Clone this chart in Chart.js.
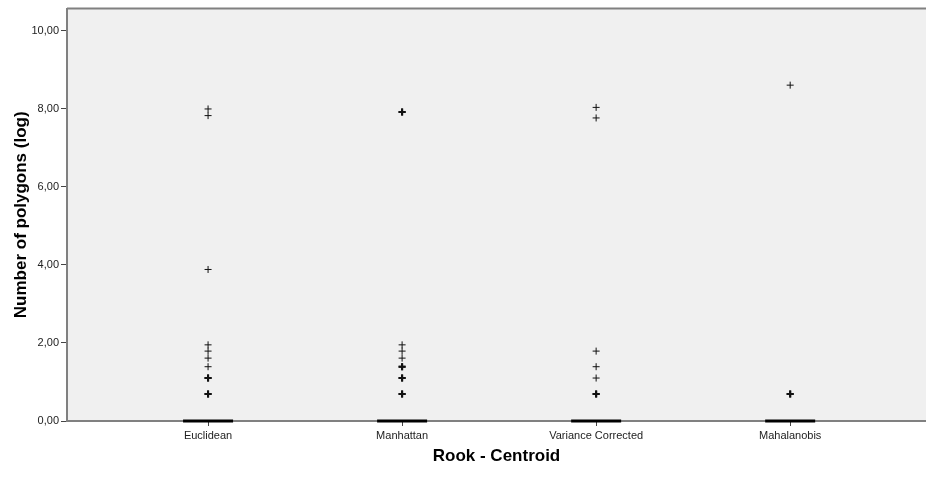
<!DOCTYPE html>
<html>
<head>
<meta charset="utf-8">
<script src="https://cdn.jsdelivr.net/npm/chart.js@4/dist/chart.umd.min.js"></script>
<style>
  html, body { margin: 0; padding: 0; background: #ffffff; }
  #wrap { width: 926px; height: 481px; }
</style>
</head>
<body>
<div id="wrap"><canvas id="chart" width="926" height="481"></canvas></div>
<script>
// Distance measures compared (x axis)
const categories = ['Euclidean', 'Manhattan', 'Variance Corrected', 'Mahalanobis'];
// Median of the log number of polygons per measure (box collapses onto it)
const medians = [0, 0, 0, 0];
// Outlying cases per measure, log number of polygons
const euclideanOutliers = [0.69, 0.69, 1.10, 1.10, 1.39, 1.61, 1.79, 1.95, 3.88, 7.82, 7.99];
const manhattanOutliers = [0.69, 0.69, 1.10, 1.10, 1.39, 1.39, 1.61, 1.79, 1.95, 7.91, 7.91];
const varianceOutliers = [0.69, 0.69, 1.10, 1.39, 1.79, 7.76, 8.03];
const mahalanobisOutliers = [0.69, 0.69, 8.60];
// Value axis ticks
const yTicks = [0, 2, 4, 6, 8, 10];

const outlierGroups = [euclideanOutliers, manhattanOutliers, varianceOutliers, mahalanobisOutliers];

const outlierPoints = [];
outlierGroups.forEach((group, i) => {
  group.forEach(v => outlierPoints.push({ x: i, y: v }));
});
const medianPoints = medians.map((m, i) => ({ x: i, y: m }));

// Repeated cases at one value are drawn with a heavier cross
function crossWeight(ctx) {
  const p = ctx.raw;
  if (!p) return 1;
  const n = outlierGroups[p.x].filter(v => v === p.y).length;
  return n > 1 ? 2 : 1;
}

const plotFrame = {
  id: 'plotFrame',
  beforeDraw(chart) {
    const { ctx, chartArea: a } = chart;
    ctx.save();
    ctx.fillStyle = '#f0f0f0';
    ctx.fillRect(a.left, a.top, a.right - a.left, a.bottom - a.top);
    ctx.restore();
  },
  afterDraw(chart) {
    const { ctx, chartArea: a } = chart;
    ctx.save();
    ctx.strokeStyle = '#808080';
    ctx.lineWidth = 2;
    ctx.beginPath();
    ctx.moveTo(a.left, a.top);
    ctx.lineTo(a.right, a.top);
    ctx.stroke();
    ctx.restore();
  }
};

new Chart(document.getElementById('chart'), {
  type: 'scatter',
  data: {
    datasets: [
      {
        label: 'Median',
        data: medianPoints,
        pointStyle: 'line',
        pointRadius: 25,
        pointHoverRadius: 25,
        pointBorderWidth: 3,
        borderColor: '#000000',
        backgroundColor: '#000000',
        clip: false
      },
      {
        label: 'Outliers',
        data: outlierPoints,
        pointStyle: 'cross',
        pointRadius: 3.5,
        pointHoverRadius: 3.5,
        pointBorderWidth: crossWeight,
        borderColor: '#111111',
        backgroundColor: '#111111',
        clip: false
      }
    ]
  },
  options: {
    responsive: false,
    animation: false,
    events: [],
    layout: { autoPadding: false, padding: { top: 7, right: 0, left: 0, bottom: 0 } },
    plugins: {
      legend: { display: false },
      tooltip: { enabled: false }
    },
    scales: {
      x: {
        type: 'linear',
        min: -0.727,
        max: 3.70,
        afterBuildTicks(scale) {
          scale.ticks = categories.map((c, i) => ({ value: i }));
        },
        afterFit(scale) { scale.height = 60; },
        grid: {
          drawOnChartArea: false,
          drawTicks: true,
          tickLength: 5,
          tickColor: '#444444',
          tickWidth: 1
        },
        border: { display: true, color: '#808080', width: 2 },
        ticks: {
          autoSkip: false,
          maxRotation: 0,
          padding: 3,
          color: '#222222',
          font: { family: '"Liberation Sans", Arial, sans-serif', size: 11 },
          callback: (v) => categories[v]
        },
        title: {
          display: true,
          text: 'Rook - Centroid',
          color: '#000000',
          font: { family: '"Liberation Sans", Arial, sans-serif', size: 17, weight: 'bold' },
          padding: { top: 0, bottom: 14 }
        }
      },
      y: {
        min: 0,
        max: 10.56,
        afterBuildTicks(scale) {
          scale.ticks = yTicks.map(v => ({ value: v }));
        },
        afterFit(scale) { scale.width = 67; },
        grid: {
          drawOnChartArea: false,
          drawTicks: true,
          tickLength: 6,
          tickColor: '#444444',
          tickWidth: 1
        },
        border: { display: true, color: '#808080', width: 2 },
        ticks: {
          padding: 2,
          color: '#222222',
          font: { family: '"Liberation Sans", Arial, sans-serif', size: 11 },
          callback: (v) => v.toFixed(2).replace('.', ',')
        },
        title: {
          display: true,
          text: 'Number of polygons (log)',
          color: '#000000',
          font: { family: '"Liberation Sans", Arial, sans-serif', size: 17, weight: 'bold' },
          padding: { top: 11, bottom: 0 }
        }
      }
    }
  },
  plugins: [plotFrame]
});
</script>
</body>
</html>
